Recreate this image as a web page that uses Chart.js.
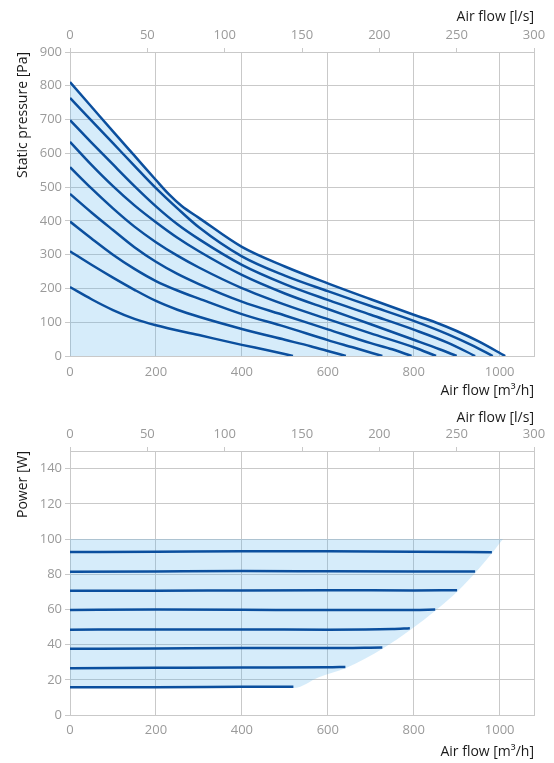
<!DOCTYPE html>
<html>
<head>
<meta charset="utf-8">
<script src="https://cdn.jsdelivr.net/npm/chart.js@4.4.0/dist/chart.umd.min.js"></script>
<style>
  html, body { margin: 0; padding: 0; background: #fff; }
  .box { position: relative; width: 554px; }
  #top { height: 400px; }
  #bottom { height: 363px; }
</style>
</head>
<body>
<div class="box" id="top"><canvas id="chartPressure"></canvas></div>
<div class="box" id="bottom"><canvas id="chartPower"></canvas></div>
<script>
// couleurs
const BLUE = "#0b4f9e";
const FILL = "rgba(90, 180, 235, 0.25)";
const GRID = "#c9c9c9";
const TICK = "#9a9a9a";

// graduations
const flowTicks = [0, 200, 400, 600, 800, 1000, 1080];
const pressureTicks = [0, 100, 200, 300, 400, 500, 600, 700, 800, 900];
const powerTicks = [0, 20, 40, 60, 80, 100, 120, 140, 150];

// courbes pression statique (m3/h -> Pa)
const p1Flow = [0, 50, 100, 150, 200, 230, 260, 300, 400, 500, 600, 700, 800, 850, 900, 950, 1013];
const p1Pa   = [811, 738, 665, 593, 521, 479, 444, 409, 323, 265, 215, 168, 122, 100, 74, 44, 0];
const p2Flow = [0, 50, 100, 150, 200, 250, 300, 400, 500, 600, 700, 800, 880, 940, 984];
const p2Pa   = [764, 697, 630, 563, 497, 437, 381, 295, 238, 192, 148, 104, 64, 29, 0];
const p3Flow = [0, 50, 100, 150, 200, 250, 300, 400, 500, 600, 700, 800, 880, 943];
const p3Pa   = [698, 632, 567, 503, 443, 390, 346, 270, 213, 166, 122, 78, 39, 0];
const p4Flow = [0, 50, 100, 150, 200, 250, 300, 400, 500, 600, 700, 800, 860, 900];
const p4Pa   = [634, 566, 503, 446, 396, 350, 310, 240, 185, 139, 94, 48, 20, 0];
const p5Flow = [0, 50, 100, 150, 200, 250, 300, 400, 500, 600, 700, 800, 852];
const p5Pa   = [559, 496, 437, 383, 337, 297, 262, 201, 152, 109, 67, 26, 0];
const p6Flow = [0, 50, 100, 150, 200, 250, 300, 400, 500, 600, 700, 750, 795];
const p6Pa   = [480, 425, 373, 322, 279, 243, 213, 161, 120, 79, 38, 20, 0];
const p7Flow = [0, 50, 100, 150, 200, 250, 300, 400, 500, 600, 660, 727];
const p7Pa   = [398, 348, 300, 258, 222, 194, 170, 124, 87, 47, 25, 0];
const p8Flow = [0, 50, 100, 150, 200, 250, 300, 400, 500, 560, 600, 642];
const p8Pa   = [310, 270, 232, 196, 163, 137, 116, 80, 48, 29, 15, 0];
const p9Flow = [0, 50, 100, 150, 200, 300, 400, 460, 519];
const p9Pa   = [204, 168, 136, 110, 91, 62, 33, 17, 0];

// courbes puissance (m3/h -> W)
const w1Flow = [0, 200, 400, 600, 800, 982];
const w1W    = [92.6, 92.7, 93.1, 93.0, 92.8, 92.5];
const w2Flow = [0, 200, 400, 600, 800, 943];
const w2W    = [81.4, 81.6, 81.8, 81.7, 81.6, 81.5];
const w3Flow = [0, 200, 400, 600, 800, 901];
const w3W    = [70.6, 70.6, 70.8, 70.9, 70.8, 70.9];
const w4Flow = [0, 200, 400, 600, 800, 850];
const w4W    = [59.7, 59.9, 59.8, 59.6, 59.7, 59.9];
const w5Flow = [0, 200, 400, 600, 750, 791];
const w5W    = [48.5, 48.6, 48.6, 48.5, 48.8, 49.3];
const w6Flow = [0, 200, 400, 600, 727];
const w6W    = [37.6, 37.8, 38.1, 38.0, 38.3];
const w7Flow = [0, 200, 400, 600, 641];
const w7W    = [26.6, 26.8, 27.0, 27.1, 27.3];
const w8Flow = [0, 200, 400, 520];
const w8W    = [15.7, 15.8, 16.0, 16.1];

// zone de fonctionnement (bord inferieur, rempli jusqu'a 100 W)
const envFlow = [0, 520, 579, 645, 730, 795, 853, 904, 946, 985, 1008];
const envW    = [15.3, 15.3, 21.5, 27, 38, 48.8, 59.8, 70.8, 81.6, 92.8, 100];

const pressureCurves = [
  [p1Flow, p1Pa], [p2Flow, p2Pa], [p3Flow, p3Pa], [p4Flow, p4Pa], [p5Flow, p5Pa],
  [p6Flow, p6Pa], [p7Flow, p7Pa], [p8Flow, p8Pa], [p9Flow, p9Pa]
];
const powerCurves = [
  [w1Flow, w1W], [w2Flow, w2W], [w3Flow, w3W], [w4Flow, w4W],
  [w5Flow, w5W], [w6Flow, w6W], [w7Flow, w7W], [w8Flow, w8W]
];

const pts = (xs, ys) => xs.map((x, i) => ({ x, y: ys[i] }));

const tickFont = { family: "Open Sans", size: 13 };
const titleFont = { family: "Open Sans", size: 14 };

function makeScales(o) {
  return {
    x: {
      type: "linear", min: 0, max: 1080,
      afterBuildTicks: s => { s.ticks = flowTicks.map(v => ({ value: v })); },
      afterFit: s => { s.height = o.xHeight; },
      grid: { color: GRID, drawTicks: false },
      border: { color: GRID },
      ticks: { color: TICK, font: tickFont, padding: o.xPad, callback: v => v === 1080 ? "" : String(v) },
      title: { display: true, text: "Air flow [m³/h]", align: "end", color: "#1a1a1a", font: titleFont,
               padding: { top: 0, bottom: o.xTitlePad } }
    },
    x2: {
      type: "linear", position: "top", min: 0, max: 300,
      afterFit: s => { s.height = o.topHeight; },
      grid: { drawOnChartArea: false, tickLength: 4, color: GRID },
      border: { color: GRID },
      ticks: { stepSize: 50, color: TICK, font: tickFont, padding: 5 },
      title: { display: true, text: "Air flow [l/s]", align: "end", color: "#1a1a1a", font: titleFont,
               padding: { top: o.topTitlePad, bottom: 0 } }
    },
    y: {
      type: "linear", min: 0, max: o.yMax,
      afterBuildTicks: s => { s.ticks = o.yTicks.map(v => ({ value: v })); },
      afterFit: s => { s.width = 70; },
      grid: {
        color: GRID, tickLength: 5,
        tickColor: c => (c.tick && c.tick.value === 150) ? "rgba(0,0,0,0)" : GRID
      },
      border: { color: GRID },
      ticks: { color: TICK, font: tickFont, padding: 3, callback: v => v === 150 ? "" : String(v) },
      title: { display: true, text: o.yTitle, align: "end", color: "#1a1a1a", font: titleFont,
               padding: { top: 15, bottom: 0 } }
    }
  };
}

function baseOptions(scales) {
  return {
    responsive: true,
    maintainAspectRatio: false,
    animation: false,
    layout: { padding: { left: 0, right: 20, top: 0, bottom: 0 } },
    plugins: {
      legend: { display: false },
      tooltip: { enabled: false },
      filler: { drawTime: "beforeDatasetsDraw" }
    },
    elements: { point: { radius: 0 } },
    scales
  };
}

// graphique pression
new Chart(document.getElementById("chartPressure"), {
  type: "line",
  data: {
    datasets: pressureCurves.map(([xs, ys], i) => ({
      data: pts(xs, ys),
      borderColor: BLUE,
      borderWidth: 2.5,
      backgroundColor: FILL,
      fill: i === 0 ? "origin" : false,
      cubicInterpolationMode: "monotone",
      pointRadius: 0
    }))
  },
  options: baseOptions(makeScales({
    xHeight: 44, xPad: 8, xTitlePad: 1, topHeight: 52, topTitlePad: 9,
    yMax: 900, yTicks: pressureTicks, yTitle: "Static pressure [Pa]"
  }))
});

// graphique puissance
const powerSets = [{
  data: pts(envFlow, envW),
  borderWidth: 0,
  borderColor: "rgba(0,0,0,0)",
  backgroundColor: FILL,
  fill: { value: 100 },
  cubicInterpolationMode: "monotone",
  pointRadius: 0
}].concat(powerCurves.map(([xs, ys]) => ({
  data: pts(xs, ys),
  borderColor: BLUE,
  borderWidth: 2.5,
  fill: false,
  cubicInterpolationMode: "monotone",
  pointRadius: 0
})));

new Chart(document.getElementById("chartPower"), {
  type: "line",
  data: { datasets: powerSets },
  options: baseOptions(makeScales({
    xHeight: 48, xPad: 7, xTitlePad: 3, topHeight: 51, topTitlePad: 10,
    yMax: 150, yTicks: powerTicks, yTitle: "Power [W]"
  }))
});
</script>
</body>
</html>
